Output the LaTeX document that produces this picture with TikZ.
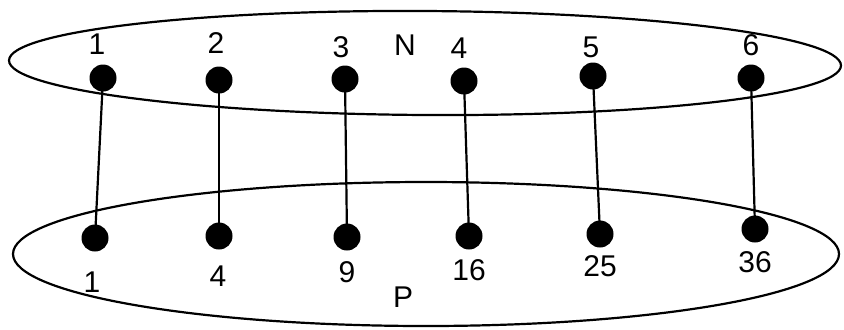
\documentclass[tikz,border=0pt]{standalone}
\usepackage{fontspec}
\setmainfont{Liberation Sans}
\usetikzlibrary{calc}
\tikzset{
  dot/.style={circle,fill=black,inner sep=0pt,minimum size=13.5pt},
  num/.style={font=\fontsize{15}{17}\selectfont,inner sep=0pt},
  link/.style={line width=1.1pt},
}

\begin{document}
\begin{tikzpicture}[x=0.5pt,y=0.5pt]
  \useasboundingbox (0,0) rectangle (844,329);
  % the two sets
  \draw[line width=1.1pt,rotate around={-0.35:(425,266)}] (425,266) ellipse [x radius=416,y radius=52];
  \draw[line width=1.1pt] (426,75) ellipse [x radius=413,y radius=72];
  \node[num] (N) at (405,284) {N};
  \node[num] (P) at (403,32) {P};
  % top elements
  \node[dot] (t1) at (103,251) {};
  \node[dot] (t2) at (219,249) {};
  \node[dot] (t3) at (345,250) {};
  \node[dot] (t4) at (464,248) {};
  \node[dot] (t5) at (593,253) {};
  \node[dot] (t6) at (751,251) {};
  \node[num] (lt1) at (97,285) {1};
  \node[num] (lt2) at (216,286) {2};
  \node[num] (lt3) at (341,282) {3};
  \node[num] (lt4) at (459,281) {4};
  \node[num] (lt5) at (591,282) {5};
  \node[num] (lt6) at (751,284) {6};
  % bottom elements
  \node[dot] (b1) at (95,91) {};
  \node[dot] (b2) at (219,93) {};
  \node[dot] (b3) at (347,92) {};
  \node[dot] (b4) at (469,93) {};
  \node[dot] (b5) at (600,95) {};
  \node[dot] (b6) at (755,100) {};
  \node[num] (lb1) at (92,47) {1};
  \node[num] (lb2) at (218,53) {4};
  \node[num] (lb3) at (347,57) {9};
  \node[num] (lb4) at (469,59) {16};
  \node[num] (lb5) at (600,63) {25};
  \node[num] (lb6) at (755,67) {36};
  % mapping
  \draw[link] (t1.center)--(b1.center);
  \draw[link] (t2.center)--(b2.center);
  \draw[link] (t3.center)--(b3.center);
  \draw[link] (t4.center)--(b4.center);
  \draw[link] (t5.center)--(b5.center);
  \draw[link] (t6.center)--(b6.center);
\end{tikzpicture}
\end{document}
